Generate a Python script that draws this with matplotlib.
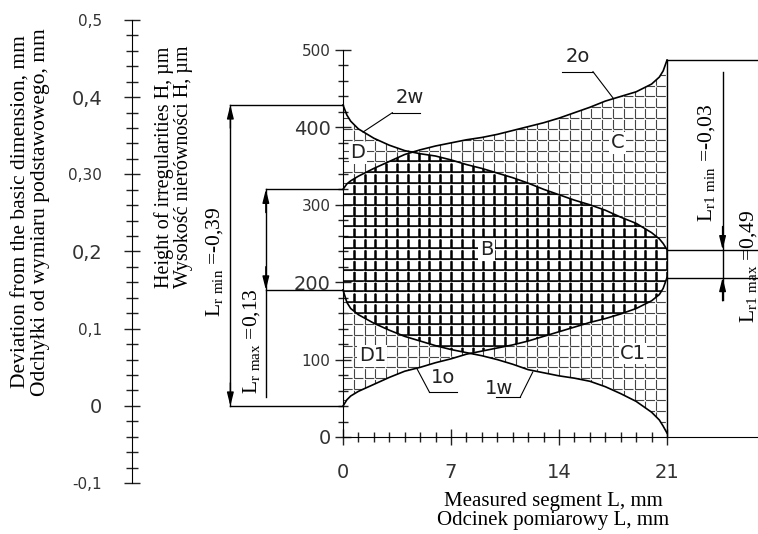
import numpy as np
import matplotlib
matplotlib.use("Agg")
import matplotlib.pyplot as plt
from matplotlib.ticker import FixedLocator

plt.rcParams['mathtext.fontset'] = 'custom'
plt.rcParams['mathtext.rm'] = 'Liberation Serif'
plt.rcParams['mathtext.default'] = 'regular'
plt.rcParams['lines.scale_dashes'] = False

# odcinek pomiarowy L, mm
L = np.array([0, 0.25, 0.5, 1, 2, 3, 4, 5, 6, 7, 8, 9, 10, 11, 12, 13, 14, 15,
              16, 17, 18, 19, 20, 20.5, 20.75, 21])
# krzywe wysokosci nierownosci H, um
h_2w = np.array([429, 416, 408, 398, 386, 377, 370, 366, 363, 358, 352, 347, 341,
                 335, 328, 320, 313, 306, 300, 293, 284, 276, 264, 256, 250, 242])
h_2o = np.array([320, 327, 331, 337, 347, 356, 365, 371, 376, 380, 384, 387, 391,
                 396, 401, 406, 412, 419, 426, 434, 440, 446, 456, 465, 473, 487])
h_1w = np.array([190, 174, 166, 158, 147, 138, 130, 124, 118, 113, 109, 105, 100,
                 94, 87, 83, 79, 76, 72, 65, 56, 46, 32, 22, 14, 5])
h_1o = np.array([40, 48, 53, 59, 68, 77, 85, 90, 96, 101, 107, 111, 115, 119, 124,
                 130, 136, 142, 148, 153, 159, 166, 176, 184, 192, 206])

h_ticks = [0, 100, 200, 300, 400, 500]
h_labels = ['0', '100', '200', '300', '400', '500']
h_sizes = [14, 11, 14, 11, 14, 11]
L_ticks = [0, 7, 14, 21]
dev_ticks = [-0.1, 0, 0.1, 0.2, 0.3, 0.4, 0.5]
dev_labels = ['-0,1', '0', '0,1', '0,2', '0,30', '0,4', '0,5']
dev_sizes = [11, 14, 11, 14, 11, 14, 11]

W, H = 758, 534
fig = plt.figure(figsize=(W / 100, H / 100), dpi=100)

# glowny wykres
ax = fig.add_axes([343 / W, (H - 437) / H, (W - 343) / W, (437 - 50) / H])
ax.set_xlim(0, 415 / 15.43)
ax.set_ylim(0, 500)
for s in ['top', 'right']:
    ax.spines[s].set_visible(False)
ax.spines['left'].set_bounds(0, 500)
ax.set_yticks(h_ticks)
ax.set_yticklabels(h_labels)
for t, sz in zip(ax.get_yticklabels(), h_sizes):
    t.set_fontsize(sz)
ax.yaxis.set_minor_locator(FixedLocator(np.arange(0, 501, 20)))
ax.set_xticks(L_ticks)
ax.set_xticklabels([str(v) for v in L_ticks], fontsize=14)
ax.xaxis.set_minor_locator(FixedLocator(np.arange(0, 22, 1)))
ax.tick_params(which='major', direction='inout', length=12, width=1, color='#222')
ax.tick_params(which='minor', direction='inout', length=7, width=1, color='#222')
ax.tick_params(axis='y', which='major', pad=3, labelcolor='#333')
ax.tick_params(axis='x', which='major', pad=13, labelcolor='#333')

lo_out = np.minimum(h_1o, h_1w)
hi_out = np.maximum(h_2o, h_2w)
lo_in = np.maximum(h_1o, h_1w)
hi_in = np.minimum(h_2o, h_2w)
outer = ax.fill_between(L, lo_out, hi_out, facecolor='none', edgecolor='none')
inner = ax.fill_between(L, lo_in, hi_in, facecolor='none', edgecolor='none')
p_out = outer.get_paths()[0]
p_in = inner.get_paths()[0]

# siatka kratek (wypelnienie obszarow)
dx, dy = 0.7, 14.0
xs = np.arange(dx, 21, dx)
ys = np.arange(6, 500, dy)
cell_x = dx * 15.43 * 0.72
cell_y = dy * 0.774 * 0.72

vl = ax.vlines(xs, ys[0], 500, colors='#444', lw=0.8, linestyles=[(0, (cell_y - 1.2, 1.2))])
hl = ax.hlines(ys, 0, 21, colors='#444', lw=0.8, linestyles=[(0, (cell_x - 1.2, 1.2))])
vl.set_clip_path(p_out, ax.transData)
hl.set_clip_path(p_out, ax.transData)
vd = ax.vlines(xs, ys[0], 500, colors='k', lw=1.8, linestyles=[(0, (cell_y - 1.5, 1.5))])
hd = ax.hlines(ys, 0, 21, colors='k', lw=1.1)
vd.set_clip_path(p_in, ax.transData)
hd.set_clip_path(p_in, ax.transData)

for h in [h_2w, h_2o, h_1w, h_1o]:
    ax.plot(L, h, color='k', lw=1.2, clip_on=False)

xr = ax.get_xlim()[1]
lk = dict(color='k', lw=1, clip_on=False)
# prawa krawedz
ax.plot([21, 21], [0, h_2o[-1]], **lk)
ax.plot([21, xr], [h_2o[-1], h_2o[-1]], **lk)
ax.plot([21, xr], [h_2w[-1], h_2w[-1]], **lk)
ax.plot([21, xr], [h_1o[-1], h_1o[-1]], **lk)

# linie wymiarowe z lewej
xa, xb = -7.3, -5.0
ax.plot([xa, 0], [h_2w[0], h_2w[0]], **lk)
ax.plot([xa, 0], [h_1o[0], h_1o[0]], **lk)
ax.plot([xb, 0], [h_2o[0], h_2o[0]], **lk)
ax.plot([xb, 0], [h_1w[0], h_1w[0]], **lk)
ax.plot([xa, xa], [h_1o[0], h_2w[0]], **lk)
ax.plot([xb, xb], [52, h_2o[0]], **lk)
xc = 24.6
ax.plot([xc, xc], [177, 472], **lk)

ap = dict(arrowstyle='-|>,head_length=0.8,head_width=0.2', color='k', lw=1,
          shrinkA=0, shrinkB=0, mutation_scale=10)


def arrow(x, y, d):
    ax.annotate('', xy=(x, y), xytext=(x, y + d), arrowprops=ap, annotation_clip=False)


arrow(xa, h_2w[0], -30)
arrow(xa, h_1o[0], 30)
arrow(xb, h_2o[0], -30)
arrow(xb, h_1w[0], 30)
arrow(xc, h_2w[-1], 30)
arrow(xc, h_1o[-1], -30)

sf = dict(family='Liberation Serif', fontsize=15.5, rotation=90, ha='center', va='center')
ax.text(-8.3, 226, r'L$_{r\ min}$ =-0,39', **sf)
ax.text(-5.95, 124, r'L$_{r\ max}$ =0,13', **sf)
ax.text(23.55, 354, r'L$_{r1\ min}$ =-0,03', **sf)
ax.text(26.3, 221, r'L$_{r1\ max}$ =0,49', **sf)

# opisy obszarow
bb = dict(facecolor='white', edgecolor='none', pad=1)
tf = dict(family='DejaVu Sans', fontsize=14, color='#222', ha='center', va='center')
ax.text(0.97, 367, 'D', bbox=bb, **tf)
ax.text(17.8, 380, 'C', bbox=bb, **tf)
ax.text(9.3, 242, 'B', bbox=bb, **tf)
ax.text(1.9, 105, 'D1', bbox=bb, **tf)
ax.text(18.8, 108, 'C1', bbox=bb, **tf)

# opisy krzywych z odnosnikami
ax.text(4.3, 438, '2w', **tf)
ax.plot([3.2, 5.0], [419, 419], color='k', lw=0.8)
ax.plot([3.2, 1.3], [419, 394], color='k', lw=0.8)
ax.text(15.2, 491, '2o', clip_on=False, **tf)
ax.plot([14.2, 16.2], [472, 472], color='k', lw=0.8, clip_on=False)
ax.plot([16.2, 17.5], [472, 438], color='k', lw=0.8)
ax.text(6.5, 77, '1o', **tf)
ax.plot([5.6, 7.4], [58, 58], color='k', lw=0.8)
ax.plot([5.6, 4.8], [58, 88], color='k', lw=0.8)
ax.text(10.1, 63, '1w', **tf)
ax.plot([9.9, 11.5], [52, 52], color='k', lw=0.8)
ax.plot([11.5, 12.3], [52, 84], color='k', lw=0.8)

# lewa os odchylek
ax2 = fig.add_axes([132 / W, (H - 483) / H, 0.0001, (483 - 20) / H])
ax2.set_facecolor('none')
for s in ['top', 'right', 'bottom']:
    ax2.spines[s].set_visible(False)
ax2.set_ylim(-0.1, 0.5)
ax2.set_xticks([])
ax2.set_yticks(dev_ticks)
ax2.set_yticklabels(dev_labels)
for t, sz in zip(ax2.get_yticklabels(), dev_sizes):
    t.set_fontsize(sz)
ax2.yaxis.set_minor_locator(FixedLocator(np.arange(-0.1, 0.501, 0.02)))
ax2.tick_params(which='major', direction='inout', length=11, width=1, pad=16,
                color='#222', labelcolor='#333')
ax2.tick_params(which='minor', direction='inout', length=8, width=1, color='#222')

# podpisy osi
fig.text(31 / W, 1 - 212 / H,
         'Deviation from the basic dimension, mm\nOdchyłki od wymiaru podstawowego, mm',
         family='Liberation Serif', fontsize=15.5, rotation=90, ha='center', va='center',
         linespacing=1.0)
fig.text(174 / W, 1 - 167 / H,
         'Height of irregularities H, µm\nWysokość nierówności H, µm',
         family='Liberation Serif', fontsize=14.5, rotation=90, ha='center', va='center',
         linespacing=1.0)
fig.text(553 / W, 1 - 511 / H,
         'Measured segment L, mm\nOdcinek pomiarowy L, mm',
         family='Liberation Serif', fontsize=15, ha='center', va='center',
         linespacing=1.0)

fig.savefig('out.png', dpi=100)
